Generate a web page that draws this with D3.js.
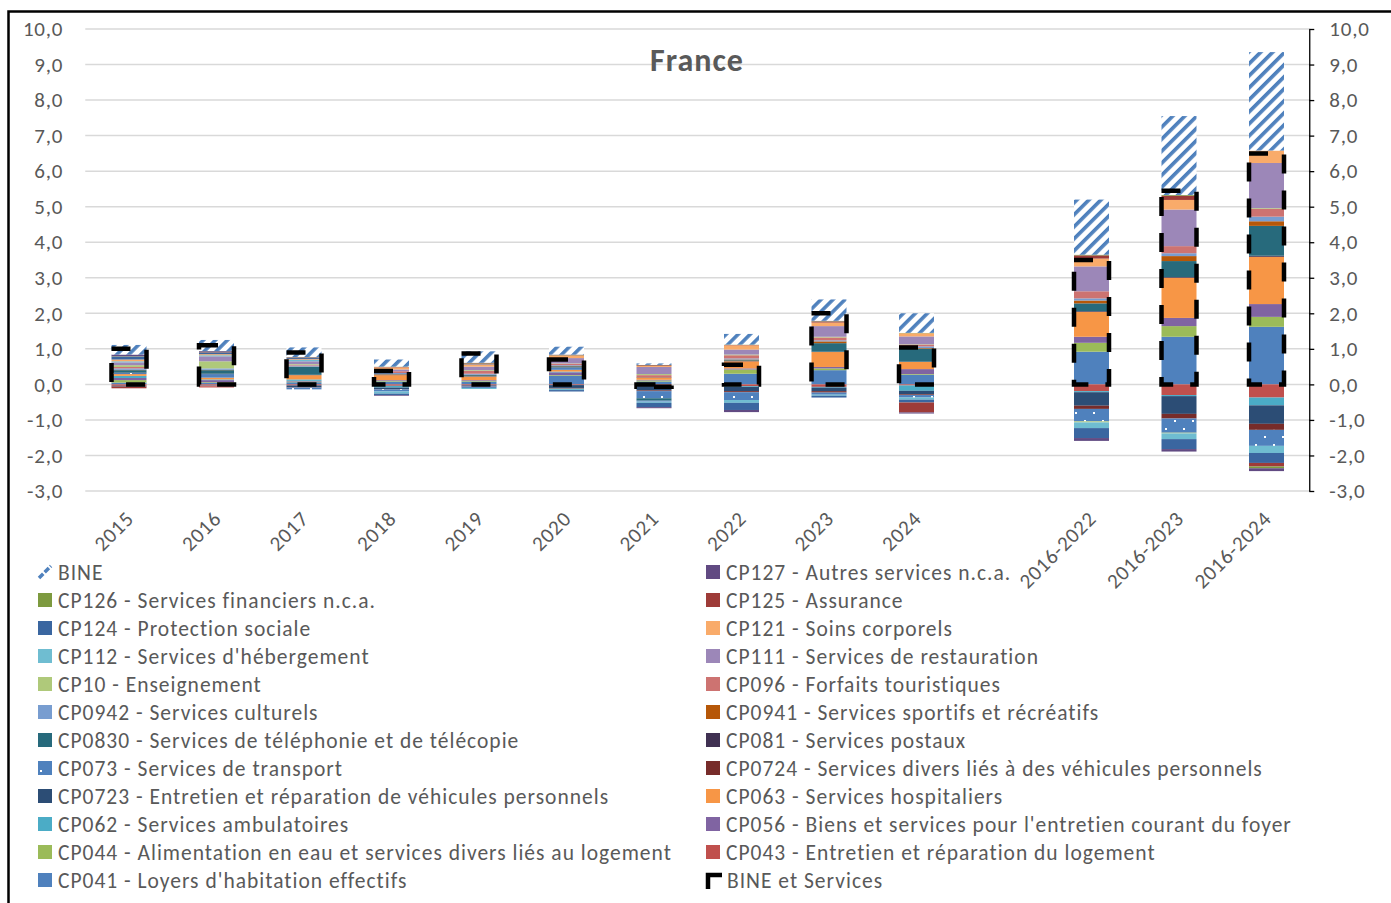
<!DOCTYPE html>
<html><head><meta charset="utf-8">
<script src="https://cdn.jsdelivr.net/npm/d3@7/dist/d3.min.js"></script>
<style>
body{margin:0;background:#fff;}
svg text{font-family:Carlito,Lato,"Liberation Sans",sans-serif;}
</style>
</head><body>
<svg id="chart" width="1391" height="903"></svg>
<script>
// ---------- DATA ----------
const categories = ["2015","2016","2017","2018","2019","2020","2021","2022","2023","2024"," ","2016-2022","2016-2023","2016-2024"];
const yTicks = [-3,-2,-1,0,1,2,3,4,5,6,7,8,9,10];
const chartTitle = "France";

// stacked series (bottom first)   2015  2016  2017  2018  2019  2020  2021  2022  2023  2024  gap  16-22 16-23 16-24
const CP041  = [0.05, 0.04, 0.06, 0.08, 0.08, 0.24, 0.08, 0.30, 0.40, 0.27, 0, 0.92, 1.34, 1.62];
const CP043  = [-0.04,-0.03,-0.03,-0.04,-0.03,-0.02,-0.03,-0.05,-0.07,-0.03, 0,-0.19,-0.30,-0.37];
const CP044  = [0.07, 0.02, 0.02, 0.02, 0.02, 0.02, 0.03, 0.12, 0.05, 0.02, 0, 0.25, 0.30, 0.28];
const CP056  = [0.06, 0.06, 0.02, 0.02, 0.02, 0.08, 0.02, 0.03, 0.04, 0.14, 0, 0.17, 0.23, 0.36];
const CP062  = [0.06, 0.02, 0.04,-0.05, 0.00, 0.02,-0.02,-0.02,-0.02,-0.15, 0,-0.03,-0.03,-0.22];
const CP063  = [0.05, 0.05, 0.12, 0.14, 0.10, 0.05, 0.05, 0.20, 0.42, 0.20, 0, 0.70, 1.13, 1.33];
const CP0723 = [-0.02,-0.01,-0.05,-0.04,-0.02,-0.08,-0.12,-0.12,-0.10,-0.10, 0,-0.38,-0.50,-0.52];
const CP0724 = [-0.01, 0.00,-0.01,-0.01,-0.01,-0.02,-0.02,-0.03,-0.04,-0.02, 0,-0.09,-0.13,-0.17];
const CP073  = [0.03, 0.10,-0.05,-0.06,-0.04, 0.06,-0.20,-0.22,-0.06,-0.07, 0,-0.35,-0.40,-0.45];
const CP081  = [0.01, 0.01, 0.01, 0.01, 0.01, 0.01, 0.01, 0.01, 0.01, 0.01, 0, 0.02, 0.02, 0.03];
const CP0830 = [0.07, 0.10, 0.22, 0.01, 0.03, 0.03,-0.07, 0.02, 0.24, 0.36, 0, 0.22, 0.45, 0.84];
const CP0941 = [0.01, 0.01, 0.01, 0.01, 0.01, 0.01, 0.01, 0.02, 0.05, 0.02, 0, 0.08, 0.14, 0.13];
const CP0942 = [0.04, 0.04, 0.03, 0.03, 0.03, 0.02,-0.03, 0.03, 0.03, 0.05, 0, 0.06, 0.08, 0.13];
const CP096  = [0.04,-0.05, 0.02, 0.05, 0.08, 0.04, 0.06, 0.09, 0.08, 0.05, 0, 0.20, 0.20, 0.22];
const CP10   = [0.05, 0.20, 0.02, 0.00, 0.02, 0.01, 0.03, 0.02, 0.02, 0.01, 0,-0.03,-0.02, 0.02];
const CP111  = [0.08, 0.14, 0.08, 0.05, 0.10, 0.15, 0.20, 0.14, 0.30, 0.22, 0, 0.70, 1.03, 1.27];
const CP112  = [0.03, 0.03, 0.04,-0.06,-0.03,-0.04,-0.03,-0.08,-0.03,-0.06, 0,-0.16,-0.16,-0.20];
const CP121  = [0.05, 0.03, 0.02, 0.06, 0.06, 0.07, 0.03, 0.12, 0.10, 0.09, 0, 0.22, 0.27, 0.35];
const CP124  = [0.08, 0.05, 0.03,-0.04, 0.01,-0.04,-0.12,-0.20,-0.05,-0.08, 0,-0.28,-0.28,-0.28];
const CP125  = [-0.04,0.01, 0.01, 0.01, 0.02, 0.01, 0.02, 0.01, 0.03,-0.28, 0, 0.09, 0.12,-0.10];
const CP126  = [0.01, 0.01, 0.01, 0.01, 0.01, 0.01, 0.01, 0.01, 0.01, 0.01, 0, 0.02, 0.02,-0.05];
const CP127  = [0.05, 0.02, 0.01,-0.02, 0.01, 0.01,-0.03,-0.06, 0.01,-0.03, 0,-0.08,-0.07,-0.08];
const BINE   = [0.27, 0.31, 0.27, 0.20, 0.32, 0.22, 0.04, 0.30, 0.60, 0.55, 0, 1.55, 2.22, 2.77];
// secondary series (outlined bar)
const BINE_et_Services = [1.00, 1.10, 0.90, 0.38, 0.87, 0.70,-0.07, 0.55, 2.00, 1.04, null, 3.50, 5.45, 6.50];

const seriesKeys = ["CP041","CP043","CP044","CP056","CP062","CP063","CP0723","CP0724","CP073","CP081","CP0830","CP0941","CP0942","CP096","CP10","CP111","CP112","CP121","CP124","CP125","CP126","CP127","BINE"];
const seriesValues = {CP041,CP043,CP044,CP056,CP062,CP063,CP0723,CP0724,CP073,CP081,CP0830,CP0941,CP0942,CP096,CP10,CP111,CP112,CP121,CP124,CP125,CP126,CP127,BINE};
const seriesLabels = {
  BINE:"BINE", CP127:"CP127 - Autres services n.c.a.", CP126:"CP126 - Services financiers n.c.a.", CP125:"CP125 - Assurance",
  CP124:"CP124 - Protection sociale", CP121:"CP121 - Soins corporels", CP112:"CP112 - Services d'hébergement",
  CP111:"CP111 - Services de restauration", CP10:"CP10 - Enseignement", CP096:"CP096 - Forfaits touristiques",
  CP0942:"CP0942 - Services culturels", CP0941:"CP0941 - Services sportifs et récréatifs",
  CP0830:"CP0830 - Services de téléphonie et de télécopie", CP081:"CP081 - Services postaux",
  CP073:"CP073 - Services de transport", CP0724:"CP0724 - Services divers liés à des véhicules personnels",
  CP0723:"CP0723 - Entretien et réparation de véhicules personnels", CP063:"CP063 - Services hospitaliers",
  CP062:"CP062 - Services ambulatoires", CP056:"CP056 - Biens et services pour l'entretien courant du foyer",
  CP044:"CP044 - Alimentation en eau et services divers liés au logement", CP043:"CP043 - Entretien et réparation du logement",
  CP041:"CP041 - Loyers d'habitation effectifs", BES:"BINE et Services"
};
const legendOrder = ["BINE","CP127","CP126","CP125","CP124","CP121","CP112","CP111","CP10","CP096","CP0942","CP0941","CP0830","CP081","CP073","CP0724","CP0723","CP063","CP062","CP056","CP044","CP043","CP041","BES"];

const colors = {
  CP041:"#4F81BD", CP043:"#C0504D", CP044:"#9BBB59", CP056:"#8064A2", CP062:"#4BACC6", CP063:"#F79646",
  CP0723:"#2C4D75", CP0724:"#772C2A", CP073:"#4F81BD", CP081:"#403152", CP0830:"#276A7C", CP0941:"#B65708",
  CP0942:"#789DD0", CP096:"#CD7371", CP10:"#AFC97A", CP111:"#9C87B8", CP112:"#6FBDD1", CP121:"#F9AB6A",
  CP124:"#3A66A0", CP125:"#9E3B38", CP126:"#7D9A3F", CP127:"#614A82", BINE:"#4F81BD"
};

// ---------- CHART ----------
const svg = d3.select("#chart");
const plot = {left:85.25, right:1310.25, top:29, bottom:491};
const textColor = "#595959";

// chart border
svg.append("rect").attr("x",8.5).attr("y",11.5).attr("width",1390).attr("height",900)
  .attr("fill","none").attr("stroke","#000").attr("stroke-width",2.5);

const defs = svg.append("defs");
const hatch = defs.append("pattern").attr("id","hatch").attr("patternUnits","userSpaceOnUse")
  .attr("width",8.5).attr("height",8.5).attr("patternTransform","rotate(45)");
hatch.append("rect").attr("width",8.5).attr("height",8.5).attr("fill","#fff");
hatch.append("rect").attr("x",0).attr("width",3.6).attr("height",8.5).attr("fill","#4F81BD");

const dots = defs.append("pattern").attr("id","dots").attr("patternUnits","userSpaceOnUse")
  .attr("width",18).attr("height",16);
dots.append("rect").attr("width",18).attr("height",16).attr("fill","#4F81BD");
dots.append("rect").attr("x",4).attr("y",4).attr("width",2).attr("height",2).attr("fill","#fff");
dots.append("rect").attr("x",13).attr("y",12).attr("width",2).attr("height",2).attr("fill","#fff");

function fillFor(k){ return k==="BINE" ? "url(#hatch)" : (k==="CP073" ? "url(#dots)" : colors[k]); }

const x = d3.scaleBand().domain(categories).range([plot.left, plot.right]).paddingInner(0.6).paddingOuter(0.3);
const y = d3.scaleLinear().domain([-3,10]).range([plot.bottom, plot.top]);
const fmt = v => d3.format(".1f")(v).replace(".",",").replace("−","-");

// gridlines
svg.append("g").selectAll("line").data(yTicks).join("line")
  .attr("x1",plot.left).attr("x2",plot.right)
  .attr("y1",d=>y(d)).attr("y2",d=>y(d))
  .attr("stroke","#D9D9D9").attr("stroke-width",1.5);

function styleTicks(g){
  g.selectAll("text").attr("font-size",21).attr("letter-spacing","0.8px").attr("fill",textColor)
   .attr("font-family","Carlito,Lato,sans-serif");
}
// left axis
const gl = svg.append("g").attr("transform",`translate(${plot.left},0)`)
  .call(d3.axisLeft(y).tickValues(yTicks).tickFormat(fmt).tickSize(0).tickPadding(22));
gl.select(".domain").remove();
styleTicks(gl);

// right axis
const gr = svg.append("g").attr("transform",`translate(${plot.right-1},0)`)
  .call(d3.axisRight(y).tickValues(yTicks).tickFormat(fmt).tickSize(5).tickSizeOuter(0).tickPadding(15));
gr.select(".domain").attr("stroke","#000").attr("stroke-width",1.3);
gr.selectAll(".tick line").attr("stroke","#000").attr("stroke-width",1.3);
styleTicks(gr);

// stacked data
const rows = categories.map((c,i)=>{ const r={cat:c}; seriesKeys.forEach(k=>r[k]=seriesValues[k][i]); return r; });
const stacked = d3.stack().keys(seriesKeys).offset(d3.stackOffsetDiverging)(rows);

svg.append("g").selectAll("g").data(stacked).join("g")
  .attr("fill",d=>fillFor(d.key))
  .selectAll("rect").data(d=>d).join("rect")
  .attr("x",d=>x(d.data.cat)).attr("width",x.bandwidth())
  .attr("y",d=>y(Math.max(d[0],d[1])))
  .attr("height",d=>Math.abs(y(d[0])-y(d[1])));

// BINE et Services outlined bars (secondary axis, same scale)
svg.append("g").selectAll("rect").data(categories.map((c,i)=>({cat:c,v:BINE_et_Services[i]})).filter(d=>d.v!==null))
  .join("rect")
  .attr("x",d=>x(d.cat)).attr("width",x.bandwidth())
  .attr("y",d=>y(Math.max(0,d.v))).attr("height",d=>Math.abs(y(d.v)-y(0)))
  .attr("fill","none").attr("stroke","#000").attr("stroke-width",4.5)
  .attr("stroke-dasharray","19,17");

// x labels
svg.append("g").selectAll("text").data(categories.filter(c=>c.trim()!==""))
  .join("text")
  .attr("transform",d=>`translate(${x(d)+x.bandwidth()/2+6},520) rotate(-45)`)
  .attr("text-anchor","end").attr("font-size",21).attr("letter-spacing","0.8px").attr("fill",textColor)
  .text(d=>d);

// title
svg.append("text").attr("x",697).attr("y",71).attr("text-anchor","middle")
  .attr("font-size",32).attr("letter-spacing","1px").attr("font-weight","bold").attr("fill",textColor).text(chartTitle);

// legend
const lg = svg.append("g");
legendOrder.forEach((k,i)=>{
  const col = i%2, row = Math.floor(i/2);
  const lx = col===0 ? 38 : 706, ly = 572 + row*28;
  const g = lg.append("g");
  if(k==="BINE"){
    g.append("path").attr("d",`M${lx+1},${ly+6} L${lx+13},${ly-6}`).attr("stroke","#4F81BD").attr("stroke-width",3.5).attr("stroke-dasharray","6,2");
  } else if(k==="BES"){
    g.append("path").attr("d",`M${lx+2},${ly+9} L${lx+2},${ly-5} L${lx+16},${ly-5}`).attr("fill","none").attr("stroke","#000").attr("stroke-width",4.5);
  } else {
    g.append("rect").attr("x",lx).attr("y",ly-7).attr("width",14).attr("height",14).attr("fill",colors[k]);
    if(k==="CP073") g.append("rect").attr("x",lx+2).attr("y",ly+2).attr("width",2).attr("height",2).attr("fill","#fff");
  }
  g.append("text").attr("x",lx+20+(k==="BES"?1:0)).attr("y",ly).attr("dy","0.35em")
    .attr("font-size",21.5).attr("letter-spacing","1px").attr("fill",textColor).text(seriesLabels[k]);
});
</script>
</body></html>
